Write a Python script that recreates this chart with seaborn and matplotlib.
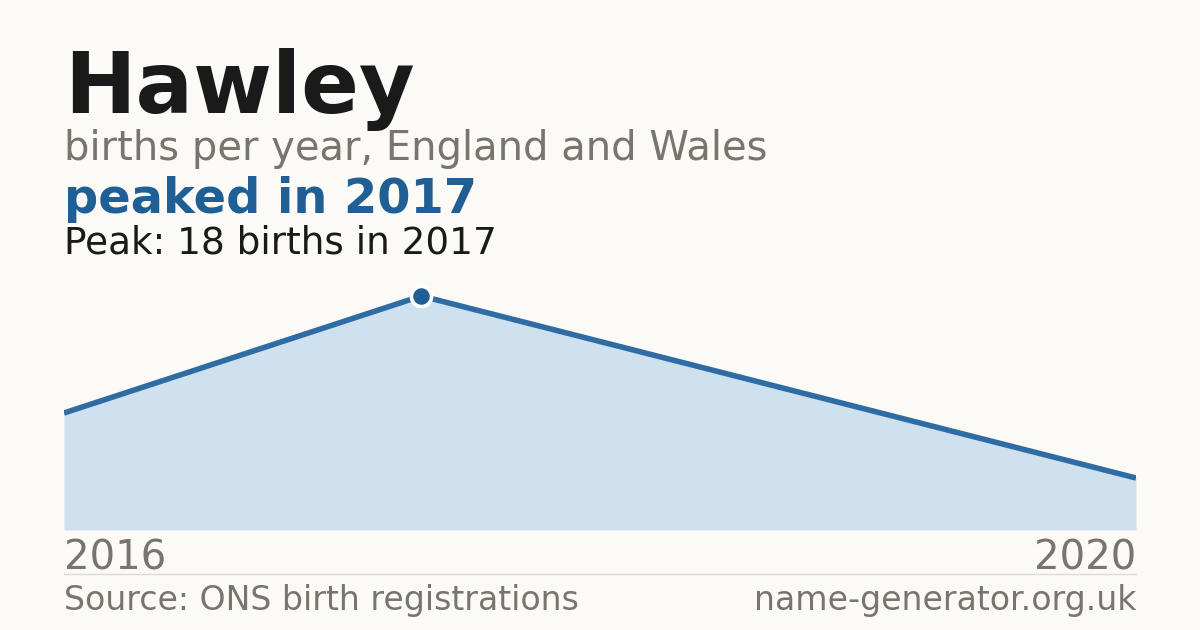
import matplotlib
matplotlib.use("Agg")
import matplotlib.pyplot as plt
from matplotlib.lines import Line2D
import seaborn as sns
import pandas as pd

# data
years = ["2016", "2017", "2019", "2020"]
births = [9, 18, 11, 4]
peak_year = "2017"
peak_value = 18

title = "Hawley"
subtitle = "births per year, England and Wales"
headline = "peaked in 2017"
peak_text = "Peak: 18 births in 2017"
source_text = "Source: ONS birth registrations"
site_text = "name-generator.org.uk"

BG = "#fbfaf6"
BLUE = "#1f5f96"
LINE = "#2f6ca3"
FILL = "#cfe0ef"
GREY = "#79756e"
DARK = "#1a1a1a"

sns.set_theme(style="white", rc={"figure.facecolor": BG, "axes.facecolor": BG})
plt.rcParams["font.family"] = ["DejaVu Sans"]

W, H = 1200, 630
fig = plt.figure(figsize=(W / 100, H / 100), dpi=100)

def fx(px):
    return px / W

def fy(py):
    return 1 - py / H

top_px, bot_px = 280, 530
ax = fig.add_axes([fx(64), fy(bot_px), fx(1136) - fx(64), (bot_px - top_px) / H])
ax.set_facecolor(BG)

df = pd.DataFrame({"idx": range(len(years)), "year": years, "births": births})
ax.fill_between(df["idx"], 0, df["births"], color=FILL, linewidth=0, zorder=1)
sns.lineplot(data=df, x="idx", y="births", ax=ax, color=LINE, linewidth=4.0,
             zorder=2, solid_capstyle="butt")
pi = years.index(peak_year)
ax.plot([pi], [peak_value], marker="o", markersize=14.5, markerfacecolor=BLUE,
        markeredgecolor="white", markeredgewidth=2.6, zorder=3, clip_on=False)

ax.set_xlim(0, len(years) - 1)
ax.set_ylim(0, peak_value * (bot_px - top_px) / (bot_px - 296))
for s in ax.spines.values():
    s.set_visible(False)
ax.set_yticks([])
ax.set_xticks([0, len(years) - 1], [years[0], years[-1]])
ax.tick_params(axis="x", length=0, pad=28.8, labelsize=29, labelcolor=GREY)
lbls = ax.get_xticklabels()
lbls[0].set_ha("left")
lbls[-1].set_ha("right")
for l in lbls:
    l.set_va("baseline")
ax.set_xlabel("")
ax.set_ylabel("")

fig.text(fx(64), fy(113), title, fontsize=61.5, fontweight="bold", color=DARK, va="baseline", ha="left")
fig.text(fx(64), fy(160), subtitle, fontsize=28.8, color=GREY, va="baseline", ha="left")
fig.text(fx(64), fy(213), headline, fontsize=34.5, fontweight="bold", color=BLUE, va="baseline", ha="left")
fig.text(fx(64), fy(254), peak_text, fontsize=26.9, color=DARK, va="baseline", ha="left")

fig.add_artist(Line2D([fx(64), fx(1136)], [fy(574), fy(574)], color="#dedbd5", linewidth=1))
fig.text(fx(64), fy(610), source_text, fontsize=23.9, color=GREY, va="baseline", ha="left")
fig.text(fx(1136), fy(610), site_text, fontsize=23.9, color=GREY, va="baseline", ha="right")

fig.savefig("out.png", dpi=100, facecolor=BG)
